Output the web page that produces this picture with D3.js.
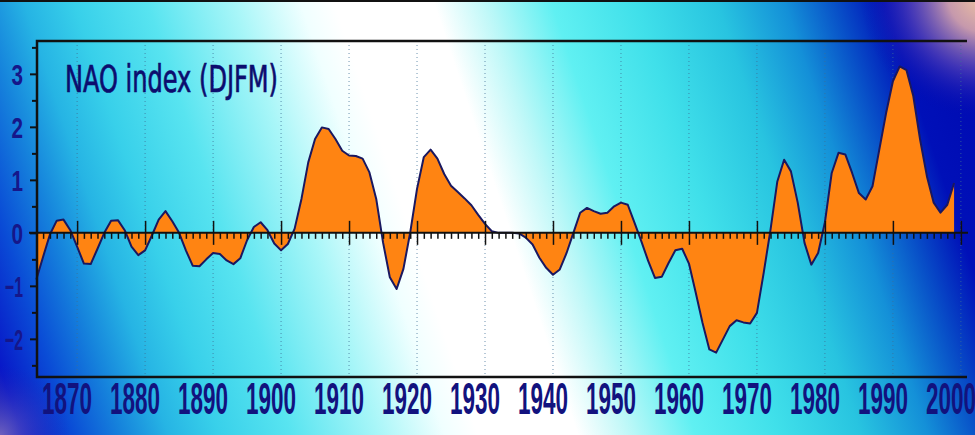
<!DOCTYPE html>
<html>
<head>
    <meta charset="utf-8">
    <script src="https://cdnjs.cloudflare.com/ajax/libs/d3/7.8.5/d3.min.js"></script>
    <style>
        body { margin: 0; background: #fff; }
        svg { display: block; }
    </style>
</head>
<body>
    <div id="viz"></div>
    <script type="text/javascript">

    // smoothed winter NAO index, one value per year starting 1864
    var firstYear = 1864;
    var naoValues = [
        -0.88, -0.45, -0.03, 0.23, 0.25, 0.05,                        // 1864-1869
        -0.26, -0.58, -0.59, -0.30, 0.00, 0.23, 0.24, 0.05, -0.26, -0.42, // 1870s
        -0.33, -0.05, 0.25, 0.41, 0.22, 0.00, -0.33, -0.62, -0.63, -0.50, // 1880s
        -0.38, -0.40, -0.52, -0.59, -0.48, -0.14, 0.11, 0.20, 0.05, -0.20, // 1890s
        -0.33, -0.21, 0.08, 0.64, 1.33, 1.77, 1.99, 1.96, 1.77, 1.55,   // 1900s
        1.46, 1.45, 1.40, 1.14, 0.64, -0.18, -0.84, -1.06, -0.68, 0.01, // 1910s
        0.83, 1.43, 1.57, 1.40, 1.11, 0.89, 0.77, 0.65, 0.52, 0.34,     // 1920s
        0.17, 0.03, 0.00, 0.00, 0.00, -0.01, -0.09, -0.22, -0.47, -0.66, // 1930s
        -0.79, -0.69, -0.38, 0.00, 0.38, 0.47, 0.41, 0.36, 0.38, 0.50,  // 1940s
        0.57, 0.53, 0.19, -0.16, -0.53, -0.85, -0.83, -0.57, -0.33, -0.30, // 1950s
        -0.58, -1.13, -1.70, -2.20, -2.26, -2.01, -1.76, -1.65, -1.69, -1.71, // 1960s
        -1.51, -0.75, 0.06, 0.97, 1.38, 1.16, 0.57, -0.19, -0.60, -0.38, // 1970s
        0.20, 1.13, 1.51, 1.48, 1.13, 0.75, 0.63, 0.88, 1.57, 2.26,     // 1980s
        2.86, 3.14, 3.07, 2.58, 1.76, 1.07, 0.57, 0.38, 0.53, 0.94      // 1990s
    ];
    var decadeTicks = [1870, 1880, 1890, 1900, 1910, 1920, 1930, 1940, 1950, 1960, 1970, 1980, 1990, 2000];
    var yMajorTicks = [-2, -1, 0, 1, 2, 3];
    var yMinorTicks = [-2.5, -1.5, -0.5, 0.5, 1.5, 2.5, 3.5];
    var titleText = "NAO index (DJFM)";

    var W = 975, H = 435;
    // plot box ("top" is taken by window.top, so p-prefixed)
    var pLeft = 37, pRight = 967, pTop = 41, pBottom = 377;

    var data = naoValues.map(function(v, i) { return { year: firstYear + i, v: v }; });

    var x = d3.scaleLinear().domain([1864.1, 2000.9]).range([pLeft, pRight]);
    var y = d3.scaleLinear().domain([-2.72, 3.62]).range([pBottom, pTop]);

    var svg = d3.select("#viz").append("svg")
        .attr("width", W)
        .attr("height", H);

    var defs = svg.append("defs");

    function addStops(g, list) {
        list.forEach(function(s) {
            g.append("stop")
                .attr("offset", s[0])
                .attr("stop-color", s[1])
                .attr("stop-opacity", s.length > 2 ? s[2] : 1);
        });
    }

    // steep diagonal background: blue -> cyan -> white -> cyan -> dark blue
    var grad = defs.append("linearGradient")
        .attr("id", "bg")
        .attr("gradientUnits", "userSpaceOnUse")
        .attr("x1", 0).attr("y1", 435)
        .attr("x2", 1008).attr("y2", 99);
    addStops(grad, [
        [0.000, "#2020b8"], [0.020, "#0818c8"], [0.065, "#0a4cd6"], [0.110, "#1684dc"],
        [0.150, "#26b4e4"], [0.195, "#38d0ea"], [0.260, "#58e4f0"], [0.338, "#a8f6f8"],
        [0.397, "#f0ffff"], [0.427, "#ffffff"], [0.516, "#ffffff"], [0.561, "#c0f8f8"],
        [0.621, "#60f0f2"], [0.695, "#40e0ea"], [0.769, "#28c4e0"], [0.829, "#1490d8"],
        [0.874, "#0850c8"], [0.918, "#0010b8"], [1.000, "#0008b0"]
    ]);

    // peach / purple glow in the top right corner
    var glowTR = defs.append("radialGradient")
        .attr("id", "glowTR")
        .attr("gradientUnits", "userSpaceOnUse")
        .attr("cx", 985).attr("cy", -5).attr("r", 125);
    addStops(glowTR, [
        [0.0, "#f4c8a0", 1], [0.3, "#d0a0ac", 0.95], [0.62, "#6048b8", 0.65], [1.0, "#0008b0", 0]
    ]);

    // faint purple in the bottom left corner
    var glowBL = defs.append("radialGradient")
        .attr("id", "glowBL")
        .attr("gradientUnits", "userSpaceOnUse")
        .attr("cx", 0).attr("cy", 435).attr("r", 70);
    addStops(glowBL, [
        [0.0, "#8070c0", 0.8], [1.0, "#2020b8", 0]
    ]);

    svg.append("rect").attr("width", W).attr("height", H).attr("fill", "url(#bg)");
    svg.append("rect").attr("width", W).attr("height", H).attr("fill", "url(#glowTR)");
    svg.append("rect").attr("width", W).attr("height", H).attr("fill", "url(#glowBL)");
    svg.append("rect").attr("width", W).attr("height", 2).attr("fill", "#111");

    // dotted decade gridlines
    svg.append("g").selectAll("line")
        .data(decadeTicks)
        .enter().append("line")
        .attr("x1", function(d) { return x(d); })
        .attr("x2", function(d) { return x(d); })
        .attr("y1", pTop).attr("y2", pBottom)
        .style("stroke", "#3d6f96")
        .style("stroke-opacity", 0.75)
        .style("stroke-width", 1)
        .style("stroke-dasharray", "1,3");

    // filled index curve
    var area = d3.area()
        .x(function(d) { return x(d.year); })
        .y0(y(0))
        .y1(function(d) { return y(d.v); });
    svg.append("path")
        .datum(data)
        .attr("d", area)
        .style("fill", "#ff8412");

    var line = d3.line()
        .x(function(d) { return x(d.year); })
        .y(function(d) { return y(d.v); });
    svg.append("path")
        .datum(data)
        .attr("d", line)
        .style("fill", "none")
        .style("stroke", "#1a1860")
        .style("stroke-width", 2)
        .style("stroke-linejoin", "round");

    // zero line with yearly ticks
    svg.append("line")
        .attr("x1", 29).attr("x2", 968)
        .attr("y1", y(0)).attr("y2", y(0))
        .style("stroke", "#111").style("stroke-width", 2);

    var minorYears = d3.range(1865, 2001).filter(function(d) { return d % 10 !== 0; });
    svg.append("g")
        .attr("transform", "translate(0," + y(0) + ")")
        .call(d3.axisBottom(x).tickValues(minorYears).tickSize(6).tickFormat(""))
        .call(function(g) {
            g.select(".domain").remove();
            g.selectAll("line").style("stroke", "#111").style("stroke-width", 1.5);
        });
    svg.append("g")
        .attr("transform", "translate(0," + (y(0) - 12) + ")")
        .call(d3.axisBottom(x).tickValues(decadeTicks).tickSize(24).tickFormat(""))
        .call(function(g) {
            g.select(".domain").remove();
            g.selectAll("line").style("stroke", "#111").style("stroke-width", 1.5);
        });

    // y axis ticks and labels
    svg.append("g")
        .attr("transform", "translate(" + pLeft + ",0)")
        .call(d3.axisLeft(y).tickValues(yMinorTicks).tickSize(5).tickFormat(""))
        .call(function(g) {
            g.select(".domain").remove();
            g.selectAll("line").style("stroke", "#111").style("stroke-width", 2);
        });
    svg.append("g")
        .attr("transform", "translate(" + pLeft + ",0)")
        .call(d3.axisLeft(y).tickValues(yMajorTicks).tickSize(7).tickPadding(7).tickFormat(d3.format("d")))
        .call(function(g) {
            g.select(".domain").remove();
            g.selectAll("line").style("stroke", "#111").style("stroke-width", 2);
            g.selectAll("text")
                .attr("dy", "0.36em")
                .attr("textLength", function(d) { return d < 0 ? 18 : 11.5; })
                .attr("lengthAdjust", "spacingAndGlyphs")
                .style("font-family", "'Liberation Sans Narrow', 'Arial Narrow', 'Liberation Sans', sans-serif")
                .style("font-weight", "bold")
                .style("font-size", "29px")
                .style("fill", "#16168a");
        });

    // frame (no right edge)
    svg.append("path")
        .attr("d", "M" + pRight + "," + pTop + "H" + pLeft + "V" + pBottom + "H" + pRight)
        .style("fill", "none")
        .style("stroke", "#111")
        .style("stroke-width", 2.5);

    // decade labels
    svg.append("g").selectAll("text")
        .data(decadeTicks)
        .enter().append("text")
        .attr("x", function(d) { return x(d) - 10; })
        .attr("y", 414)
        .attr("text-anchor", "middle")
        .attr("textLength", 50)
        .attr("lengthAdjust", "spacingAndGlyphs")
        .style("font-family", "'Liberation Sans Narrow', 'Arial Narrow', 'Liberation Sans', sans-serif")
        .style("font-weight", "bold")
        .style("font-size", "44px")
        .style("fill", "#12127e")
        .text(function(d) { return d; });

    svg.append("text")
        .attr("x", 65)
        .attr("y", 92)
        .attr("textLength", 213)
        .attr("lengthAdjust", "spacingAndGlyphs")
        .style("font-family", "'DejaVu Sans Condensed', 'DejaVu Sans', sans-serif")
        .style("font-size", "37px")
        .style("fill", "#0c0c6e")
        .style("stroke", "#0c0c6e")
        .style("stroke-width", 0.7)
        .text(titleText);

    </script>
</body>
</html>
